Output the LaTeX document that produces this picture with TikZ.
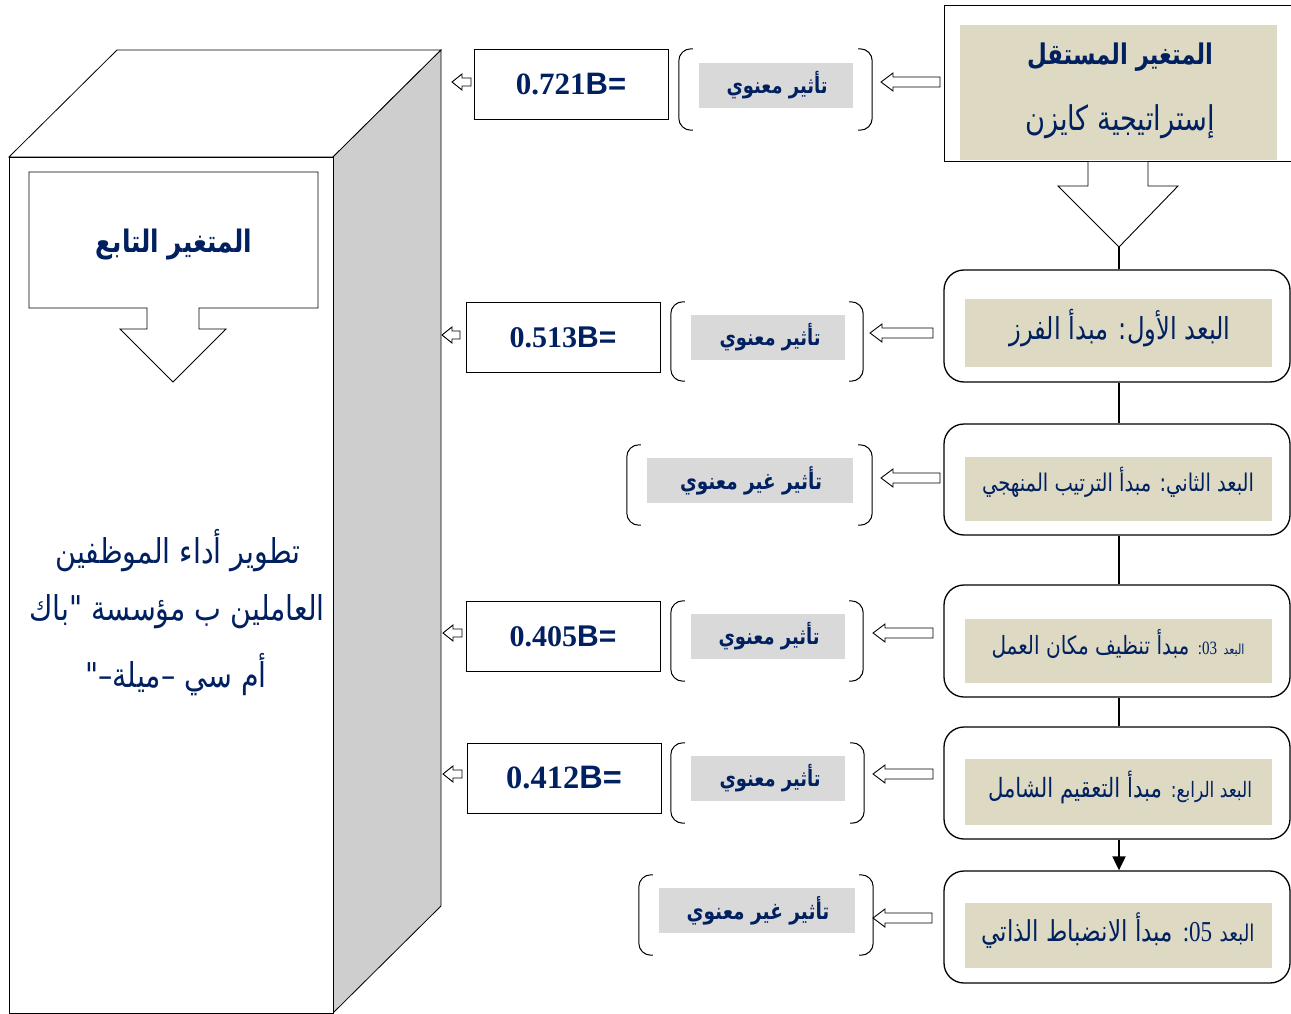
\documentclass[tikz,border=0pt]{standalone}
\usepackage{fontspec}
\usepackage{graphicx}
\usetikzlibrary{calc,arrows.meta}
\setmainfont{Liberation Serif}
\newfontfamily\arfont[Script=Arabic]{DejaVu Sans}
\newfontfamily\lsans{Liberation Sans}
\TeXXeTstate=1
\definecolor{txtblue}{RGB}{0,32,96}
\definecolor{beigec}{RGB}{221,217,195}
\definecolor{lblgray}{RGB}{217,217,217}
\definecolor{cubegray}{RGB}{206,206,206}
\newcommand{\AR}[2]{\scalebox{1}[1.25]{\resizebox{#1}{!}{\fontsize{20}{24}\selectfont\arfont #2}}}
\newcommand{\ARB}[2]{\scalebox{1}[1.25]{\resizebox{#1}{!}{\fontsize{20}{24}\selectfont\arfont\bfseries #2}}}
\newcommand{\ARC}[1]{\scalebox{1}[1.2]{\fontsize{28.5}{32}\selectfont\arfont #1}}
\newcommand{\valtext}[2]{\fontsize{#1}{#1}\selectfont\bfseries #2{\lsans B=}}
\newcommand{\brackets}[1]{%
  \draw[brkline] ($(#1.north west)+(14,0)$) -- (#1.north west) -- (#1.south west) -- ($(#1.south west)+(14,0)$);
  \draw[brkline] ($(#1.north east)+(-14,0)$) -- (#1.north east) -- (#1.south east) -- ($(#1.south east)+(-14,0)$);}
% #1 tip, #2 tail, #3 head length, #4 head half height, #5 shaft half height
\newcommand{\hollowarrow}[5]{%
  \draw[harr] (#1) -- ($(#1)+(#3,-#4)$) -- ($(#1)+(#3,-#5)$) -- ($(#2)+(0,-#5)$) -- ($(#2)+(0,#5)$) -- ($(#1)+(#3,#5)$) -- ($(#1)+(#3,#4)$) -- cycle;}
\begin{document}
\begin{tikzpicture}[x=1pt,y=-1pt,
  cubeline/.style={draw=black, line width=0.8pt},
  dimbox/.style={draw=black, line width=1.3pt, rounded corners=20pt, fill=white, inner sep=0pt},
  beigebox/.style={fill=beigec, inner sep=0pt},
  lblbox/.style={fill=lblgray, inner sep=0pt},
  valbox/.style={draw=black, line width=0.9pt, fill=white, inner sep=0pt, text=txtblue},
  brk/.style={inner sep=0pt},
  brkline/.style={draw=black, line width=1pt, rounded corners=12pt},
  harr/.style={draw=black, line width=0.9pt, fill=white},
  conn/.style={draw=black, line width=2pt},
  txt/.style={text=txtblue, inner sep=0pt},
]
\useasboundingbox[fill=white] (0,0) rectangle (1291,1014);

% ---- cube (dependent variable)
\filldraw[cubeline, fill=white] (9,157) -- (117,50) -- (441,50) -- (333,157) -- cycle;
\filldraw[cubeline, fill=cubegray] (333,157) -- (441,50) -- (441,906) -- (333,1013) -- cycle;
\filldraw[cubeline, fill=white] (9,157) rectangle (333,1013);
\filldraw[cubeline, fill=white] (29,172) -- (318,172) -- (318,308) -- (199,308) -- (199,329) -- (226,329)
  -- (173,382) -- (120,329) -- (147,329) -- (147,308) -- (29,308) -- cycle;
\node[txt] (dvtitle) at (174,245) {\ARB{156pt}{\beginR المتغير التابع\endR}};
\node[txt] (dv1) at (178,551) {\ARC{\beginR تطوير أداء الموظفين\endR}};
\node[txt] (dv2) at (177,612) {\ARC{\beginR العاملين ب مؤسسة "باك\endR}};
\node[txt] (dv3) at (176,675) {\ARC{\beginR أم سي –ميلة–"\endR}};

% ---- independent variable box
\node[draw=black, line width=1pt, fill=white, minimum width=352pt, minimum height=156pt, inner sep=0pt] (ivbox) at (1120,84) {};
\node[beigebox, minimum width=317pt, minimum height=135pt] (ivfill) at (1118.5,92.5) {};
\node[txt] (ivtitle) at (1120,57) {\ARB{186pt}{\beginR المتغير المستقل\endR}};
\node[txt] (ivname) at (1120,122) {\AR{190pt}{\beginR إستراتيجية كايزن\endR}};
\coordinate (ivtip) at (1119,247);
\filldraw[harr] (1088,162) -- (1088,186) -- (1058,186) -- (ivtip) -- (1178,186) -- (1148,186) -- (1148,162);

% ---- dimension boxes
\node[dimbox, minimum width=346pt, minimum height=112pt] (dim1) at (1117,326) {};
\node[beigebox, minimum width=307pt, minimum height=68pt] (bg1) at (1118.5,333) {};
\node[txt] (dt1) at (1120,328) {\AR{221pt}{\beginR البعد الأول: مبدأ الفرز\endR}};

\node[dimbox, minimum width=346pt, minimum height=111pt] (dim2) at (1117,479.5) {};
\node[beigebox, minimum width=307pt, minimum height=64pt] (bg2) at (1118.5,489) {};
\node[txt] (dt2) at (1118,482) {\AR{272pt}{\beginR البعد الثاني: مبدأ الترتيب المنهجي\endR}};

\node[dimbox, minimum width=346pt, minimum height=112pt] (dim3) at (1117,641) {};
\node[beigebox, minimum width=307pt, minimum height=64pt] (bg3) at (1118.5,651) {};
\node[txt] (dt3) at (1118,644) {\AR{253pt}{\beginR{\fontsize{11}{13}\selectfont البعد} \beginL{\rmfamily\fontsize{15}{18}\selectfont 03}\endL{\rmfamily\fontsize{15}{18}\selectfont :} مبدأ تنظيف مكان العمل\endR}};

\node[dimbox, minimum width=346pt, minimum height=112pt] (dim4) at (1117,783) {};
\node[beigebox, minimum width=307pt, minimum height=66pt] (bg4) at (1118.5,792) {};
\node[txt] (dt4) at (1120,787) {\AR{264pt}{\beginR{\fontsize{16}{19}\selectfont البعد الرابع:} مبدأ التعقيم الشامل\endR}};

\node[dimbox, minimum width=346pt, minimum height=112pt] (dim5) at (1117,927) {};
\node[beigebox, minimum width=307pt, minimum height=65pt] (bg5) at (1118.5,935.5) {};
\node[txt] (dt5) at (1118,931) {\AR{273pt}{\beginR{\fontsize{16}{19}\selectfont البعد} \beginL{\rmfamily 05}\endL{\rmfamily :} مبدأ الانضباط الذاتي\endR}};

% ---- vertical connectors
\draw[conn] (ivtip) -- (ivtip |- dim1.north);
\draw[conn] (ivtip |- dim1.south) -- (ivtip |- dim2.north);
\draw[conn] (ivtip |- dim2.south) -- (ivtip |- dim3.north);
\draw[conn] (ivtip |- dim3.south) -- (ivtip |- dim4.north);
\draw[conn, -{Triangle[width=13pt,length=14pt]}] (ivtip |- dim4.south) -- (ivtip |- dim5.north);

% ---- effect labels in brackets
\node[brk, minimum width=193pt, minimum height=81pt] (k1) at (775.5,89.5) {};
\node[lblbox, minimum width=154pt, minimum height=45pt] (g1) at (776,85.5) {};
\node[txt] (e1) at (777,85) {\ARB{101pt}{\beginR تأثير معنوي\endR}};
\brackets{k1}

\node[brk, minimum width=192pt, minimum height=79pt] (k2) at (767,341.5) {};
\node[lblbox, minimum width=154pt, minimum height=45pt] (g2) at (768,337.5) {};
\node[txt] (e2) at (770,337) {\ARB{101pt}{\beginR تأثير معنوي\endR}};
\brackets{k2}

\node[brk, minimum width=245pt, minimum height=80pt] (k3) at (749.5,485) {};
\node[lblbox, minimum width=206pt, minimum height=45pt] (g3) at (750,480.5) {};
\node[txt] (e3) at (751,481) {\ARB{142pt}{\beginR تأثير غير معنوي\endR}};
\brackets{k3}

\node[brk, minimum width=192pt, minimum height=80pt] (k4) at (767,641) {};
\node[lblbox, minimum width=154pt, minimum height=45pt] (g4) at (768,636.5) {};
\node[txt] (e4) at (769,636) {\ARB{101pt}{\beginR تأثير معنوي\endR}};
\brackets{k4}

\node[brk, minimum width=193pt, minimum height=80pt] (k5) at (767.5,783) {};
\node[lblbox, minimum width=154pt, minimum height=45pt] (g5) at (768,778.5) {};
\node[txt] (e5) at (770,778) {\ARB{101pt}{\beginR تأثير معنوي\endR}};
\brackets{k5}

\node[brk, minimum width=234pt, minimum height=80pt] (k6) at (756,915) {};
\node[lblbox, minimum width=196pt, minimum height=45pt] (g6) at (757,910.5) {};
\node[txt] (e6) at (758,911) {\ARB{143pt}{\beginR تأثير غير معنوي\endR}};
\brackets{k6}

% ---- coefficient boxes
\node[valbox, minimum width=194pt, minimum height=70pt] (v1) at (571,84) {\valtext{31}{0.721}};
\node[valbox, minimum width=194pt, minimum height=70pt] (v2) at (563,337) {\valtext{30}{0.513}};
\node[valbox, minimum width=194pt, minimum height=70pt] (v4) at (563,636) {\valtext{30}{0.405}};
\node[valbox, minimum width=194pt, minimum height=70pt] (v5) at (564,778) {\valtext{32.5}{0.412}};

% ---- big hollow arrows (dimension -> effect)
\coordinate (a1t) at (881,82);  \coordinate (a1s) at (940,82);
\coordinate (a2t) at (870,333); \coordinate (a2s) at (933,333);
\coordinate (a3t) at (881,478); \coordinate (a3s) at (940,478);
\coordinate (a4t) at (873,633); \coordinate (a4s) at (933,633);
\coordinate (a5t) at (873,774); \coordinate (a5s) at (933,774);
\coordinate (a6t) at (873,918); \coordinate (a6s) at (932,918);
\hollowarrow{a1t}{a1s}{12}{9}{5}
\hollowarrow{a2t}{a2s}{12}{9}{5}
\hollowarrow{a3t}{a3s}{12}{9}{5}
\hollowarrow{a4t}{a4s}{12}{9}{5}
\hollowarrow{a5t}{a5s}{12}{9}{5}
\hollowarrow{a6t}{a6s}{12}{9}{5}

% ---- small hollow arrows (coefficient -> dependent variable)
\coordinate (s1t) at (452,82);  \coordinate (s1s) at (471,82);
\coordinate (s2t) at (442,335); \coordinate (s2s) at (460,335);
\coordinate (s4t) at (443,633); \coordinate (s4s) at (462,633);
\coordinate (s5t) at (443,774); \coordinate (s5s) at (462,774);
\hollowarrow{s1t}{s1s}{10}{8}{4}
\hollowarrow{s2t}{s2s}{10}{8}{4}
\hollowarrow{s4t}{s4s}{10}{8}{4}
\hollowarrow{s5t}{s5s}{10}{8}{4}
\end{tikzpicture}
\end{document}
